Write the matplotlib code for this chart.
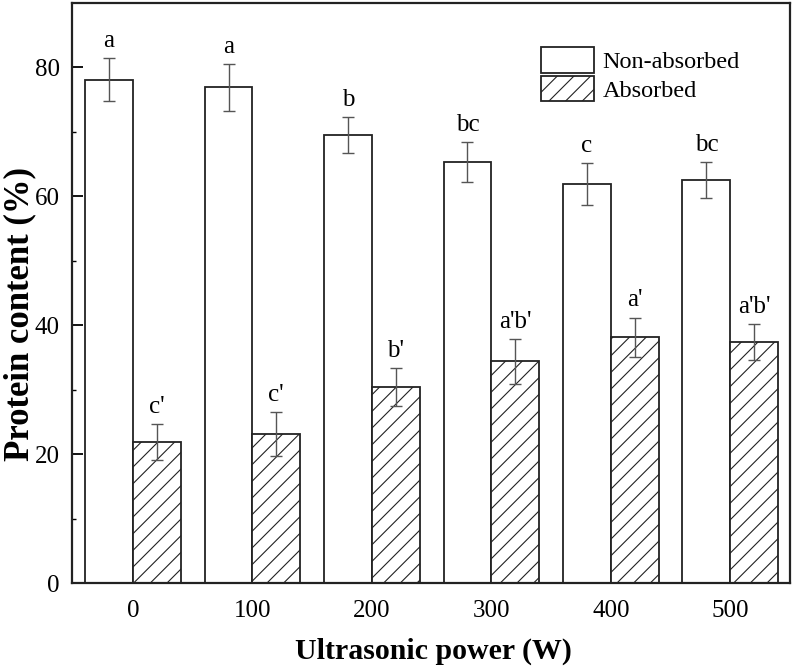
import matplotlib
matplotlib.use('Agg')
import matplotlib.pyplot as plt
import numpy as np

powers = ['0', '100', '200', '300', '400', '500']
non_absorbed = [78.1, 76.9, 69.5, 65.3, 61.9, 62.5]
non_absorbed_err = [3.3, 3.6, 2.8, 3.1, 3.2, 2.8]
absorbed = [21.9, 23.1, 30.4, 34.4, 38.1, 37.4]
absorbed_err = [2.8, 3.4, 2.9, 3.5, 3.1, 2.8]
non_absorbed_letters = ['a', 'a', 'b', 'bc', 'c', 'bc']
absorbed_letters = ["c'", "c'", "b'", "a'b'", "a'", "a'b'"]

plt.rcParams['font.family'] = ['Liberation Serif', 'DejaVu Serif']
plt.rcParams['hatch.linewidth'] = 0.8

fig = plt.figure(figsize=(7.93, 6.67), dpi=100)
ax = fig.add_axes([0.0908, 0.1259, 0.9054, 0.8696])

x = np.arange(len(powers))
w = 0.4
err_kw = dict(ecolor='#555555', elinewidth=1.0, capsize=4.5, capthick=1.0)

ax.bar(x - w / 2, non_absorbed, w, color='white', edgecolor='#222222',
       linewidth=1.3, label='Non-absorbed')
ax.bar(x + w / 2, absorbed, w, color='white', edgecolor='#222222',
       linewidth=1.3, hatch='//', label='Absorbed')
ax.errorbar(x - w / 2, non_absorbed, yerr=non_absorbed_err, fmt='none', **err_kw)
ax.errorbar(x + w / 2, absorbed, yerr=absorbed_err, fmt='none', **err_kw)

# significance letters above the error bars
for i in range(len(powers)):
    ax.annotate(non_absorbed_letters[i], (x[i] - w / 2, non_absorbed[i] + non_absorbed_err[i]),
                xytext=(0, 8), textcoords='offset points', ha='center', va='baseline', fontsize=18)
    ax.annotate(absorbed_letters[i], (x[i] + w / 2, absorbed[i] + absorbed_err[i]),
                xytext=(0, 8), textcoords='offset points', ha='center', va='baseline', fontsize=18)

ax.set_xlim(-0.51, 5.5)
ax.set_ylim(0, 90)
ax.set_xticks(x)
ax.set_xticklabels(powers)
ax.set_yticks([0, 20, 40, 60, 80])
ax.set_yticks([10, 30, 50, 70], minor=True)
ax.tick_params(axis='x', length=0, pad=12, labelsize=18)
ax.tick_params(axis='y', which='major', direction='in', length=8, width=1.3, pad=9, labelsize=18)
ax.tick_params(axis='y', which='minor', direction='in', length=3, width=1.0)
for s in ax.spines.values():
    s.set_linewidth(1.6)
    s.set_color('#222222')

ax.set_xlabel('Ultrasonic power (W)', fontsize=21.5, fontweight='bold')
ax.set_ylabel('Protein content (%)', fontsize=25, fontweight='bold')
ax.xaxis.set_label_coords(0.503, -0.095)
ax.yaxis.set_label_coords(-0.05, 0.464)

ax.legend(loc='upper left', bbox_to_anchor=(0.636, 0.945), frameon=False, fontsize=17.5,
          borderpad=0, handlelength=2.2, handleheight=1.25, handletextpad=0.35,
          labelspacing=0.1)

fig.savefig('out.png', dpi=100)
